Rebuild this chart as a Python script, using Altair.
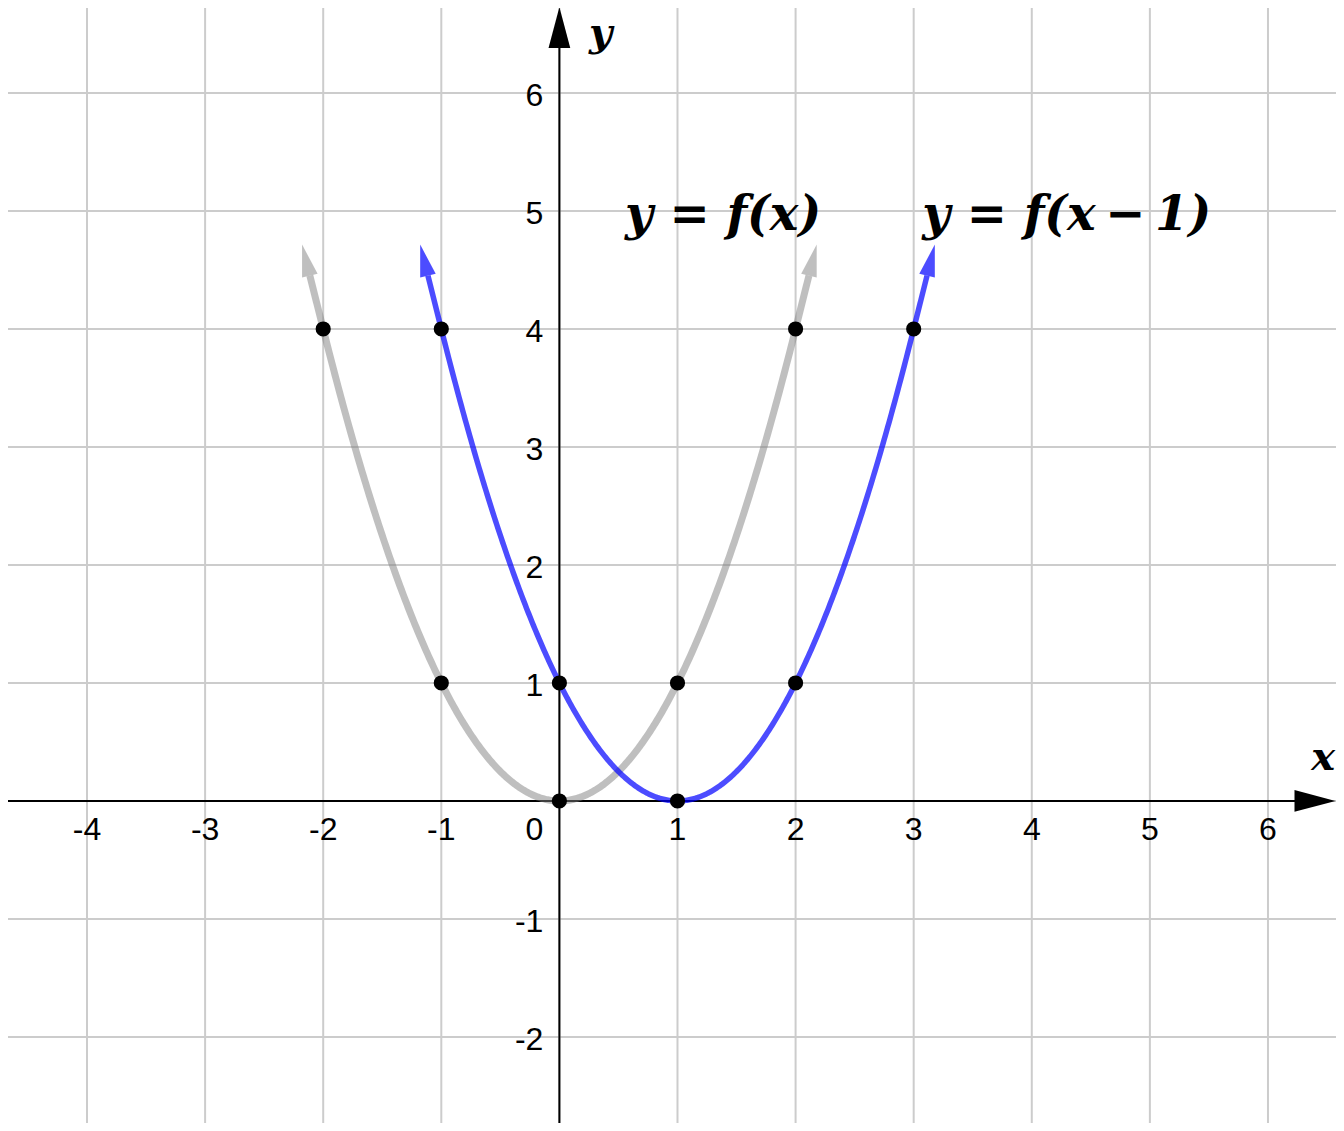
import math
import altair as alt
import pandas as pd

# ---------------- data ----------------
grid_x = [-4, -3, -2, -1, 0, 1, 2, 3, 4, 5, 6]
grid_y = [-2, -1, 0, 1, 2, 3, 4, 5, 6]
x_tick_values = [-4, -3, -2, -1, 1, 2, 3, 4, 5, 6]
x_tick_labels = ["-4", "-3", "-2", "-1", "1", "2", "3", "4", "5", "6"]
y_tick_values = [-2, -1, 1, 2, 3, 4, 5, 6]
y_tick_labels = ["-2", "-1", "1", "2", "3", "4", "5", "6"]

curve_names = ["y = f(x)", "y = f(x\u2009\u2212\u20091)"]
curve_shift = [0, 1]          # horizontal shift h in (x - h)^2
curve_start = [-2, -1]
curve_end = [2, 3]
curve_colors = ["#808080", "#0000ff"]
curve_opacity = [0.5, 0.7]
curve_width = [7, 5.5]

f_points_x = [-2, -1, 0, 1, 2]
f_points_y = [4, 1, 0, 1, 4]
g_points_x = [-1, 0, 1, 2, 3]
g_points_y = [4, 1, 0, 1, 4]

label_x = [0.555, 3.072]
label_y = [4.839, 4.839]

# ---------------- layout ----------------
W, H = 1328, 1115
XMIN, XMAX = -4.669, 6.576
YMIN, YMAX = -2.729, 6.720
PX = W / (XMAX - XMIN)
PY = H / (YMAX - YMIN)

xs = alt.Scale(domain=[XMIN, XMAX], nice=False, zero=False)
ys = alt.Scale(domain=[YMIN, YMAX], nice=False, zero=False)

ARROW = "M0,-1L0.5,1L-0.5,1Z"
AXIS_ARROW = "M0,-1L0.53,1L-0.53,1Z"


def X(f):
    return alt.X(f, type="quantitative", scale=xs, axis=None)


def Y(f):
    return alt.Y(f, type="quantitative", scale=ys, axis=None)


layers = []

# grid
layers.append(
    alt.Chart(pd.DataFrame({"gx": grid_x}))
    .mark_rule(color="#cccccc", strokeWidth=2)
    .encode(x=X("gx"))
)
layers.append(
    alt.Chart(pd.DataFrame({"gy": grid_y}))
    .mark_rule(color="#cccccc", strokeWidth=2)
    .encode(y=Y("gy"))
)

# axes
layers.append(
    alt.Chart(pd.DataFrame({"a": [XMIN], "b": [6.40], "c": [0]}))
    .mark_rule(color="black", strokeWidth=2)
    .encode(x=X("a"), x2="b", y=Y("c"))
)
layers.append(
    alt.Chart(pd.DataFrame({"a": [YMIN], "b": [6.40], "c": [0]}))
    .mark_rule(color="black", strokeWidth=2)
    .encode(y=Y("a"), y2="b", x=X("c"))
)
axis_heads = pd.DataFrame({"hx": [0, 6.398], "hy": [6.554, 0], "ang": [0, 90]})
layers.append(
    alt.Chart(axis_heads)
    .mark_point(shape=AXIS_ARROW, filled=True, color="black",
                opacity=1, size=1681, strokeWidth=0)
    .encode(x=X("hx"), y=Y("hy"), angle=alt.Angle("ang:Q", scale=None))
)

# curves with arrows
L_SHAFT, L_HEAD = 55.0, 32.0
for i in range(2):
    h = curve_shift[i]
    color = curve_colors[i]
    op = curve_opacity[i]
    sw = curve_width[i]
    seq = alt.sequence(curve_start[i], curve_end[i] + 0.0001, 0.01, as_="x")
    layers.append(
        alt.Chart(seq)
        .transform_calculate(y=f"(datum.x - {h}) * (datum.x - {h})")
        .mark_line(color=color, opacity=op, strokeWidth=sw)
        .encode(x=X("x"), y=Y("y"), order="x:Q")
    )
    shafts = []
    heads = []
    for k, (ex, s) in enumerate([(curve_start[i], -1), (curve_end[i], 1)]):
        ey = (ex - h) ** 2
        d = 2 * (ex - h)
        vx, vy = s * PX, -s * d * PY
        n = math.hypot(vx, vy)
        ux, uy = vx / n, vy / n
        bx = ex + L_SHAFT * ux / PX
        by = ey - L_SHAFT * uy / PY
        cx = ex + (L_SHAFT + L_HEAD / 2) * ux / PX
        cy = ey - (L_SHAFT + L_HEAD / 2) * uy / PY
        ang = math.degrees(math.atan2(ux, -uy)) % 360
        shafts += [{"id": k, "o": 0, "sx": ex, "sy": ey},
                   {"id": k, "o": 1, "sx": bx, "sy": by}]
        heads.append({"hx": cx, "hy": cy, "ang": ang})
    layers.append(
        alt.Chart(pd.DataFrame(shafts))
        .mark_line(color=color, opacity=op, strokeWidth=sw)
        .encode(x=X("sx"), y=Y("sy"), detail="id:N", order="o:Q")
    )
    layers.append(
        alt.Chart(pd.DataFrame(heads))
        .mark_point(shape=ARROW, filled=True, color=color, opacity=op,
                    size=L_HEAD * L_HEAD, strokeWidth=0)
        .encode(x=X("hx"), y=Y("hy"), angle=alt.Angle("ang:Q", scale=None))
    )

# points
pts = pd.DataFrame({"px": f_points_x + g_points_x, "py": f_points_y + g_points_y})
layers.append(
    alt.Chart(pts)
    .mark_circle(color="black", opacity=1, size=230)
    .encode(x=X("px"), y=Y("py"))
)

# tick labels
tick_font = dict(font="Liberation Sans", fontSize=32, color="black")
layers.append(
    alt.Chart(pd.DataFrame({"tx": x_tick_values, "ty": [0] * len(x_tick_values),
                            "t": x_tick_labels}))
    .mark_text(align="center", baseline="alphabetic", dy=39, **tick_font)
    .encode(x=X("tx"), y=Y("ty"), text="t:N")
)
layers.append(
    alt.Chart(pd.DataFrame({"tx": [0] * len(y_tick_values), "ty": y_tick_values,
                            "t": y_tick_labels}))
    .mark_text(align="right", baseline="alphabetic", dx=-16, dy=13, **tick_font)
    .encode(x=X("tx"), y=Y("ty"), text="t:N")
)
layers.append(
    alt.Chart(pd.DataFrame({"tx": [0], "ty": [0], "t": ["0"]}))
    .mark_text(align="right", baseline="alphabetic", dx=-16, dy=39, **tick_font)
    .encode(x=X("tx"), y=Y("ty"), text="t:N")
)

# axis titles and curve labels
math_font = dict(font="DejaVu Serif", fontStyle="italic", fontWeight="bold",
                 color="black", baseline="alphabetic")
layers.append(
    alt.Chart(pd.DataFrame({"tx": [6.568], "ty": [0.263], "t": ["x"]}))
    .mark_text(fontSize=40, align="right", **math_font)
    .encode(x=X("tx"), y=Y("ty"), text="t:N")
)
layers.append(
    alt.Chart(pd.DataFrame({"tx": [0.251], "ty": [6.40], "t": ["y"]}))
    .mark_text(fontSize=40, align="left", **math_font)
    .encode(x=X("tx"), y=Y("ty"), text="t:N")
)
layers.append(
    alt.Chart(pd.DataFrame({"tx": label_x, "ty": label_y, "t": curve_names}))
    .mark_text(fontSize=48, align="left", **math_font)
    .encode(x=X("tx"), y=Y("ty"), text="t:N")
)

chart = (
    alt.layer(*layers)
    .properties(width=W, height=H, padding=0,
                autosize=alt.AutoSizeParams(type="none"))
    .configure_view(stroke=None)
)

chart.save("out.html", embed_options={"renderer": "svg", "actions": False})
